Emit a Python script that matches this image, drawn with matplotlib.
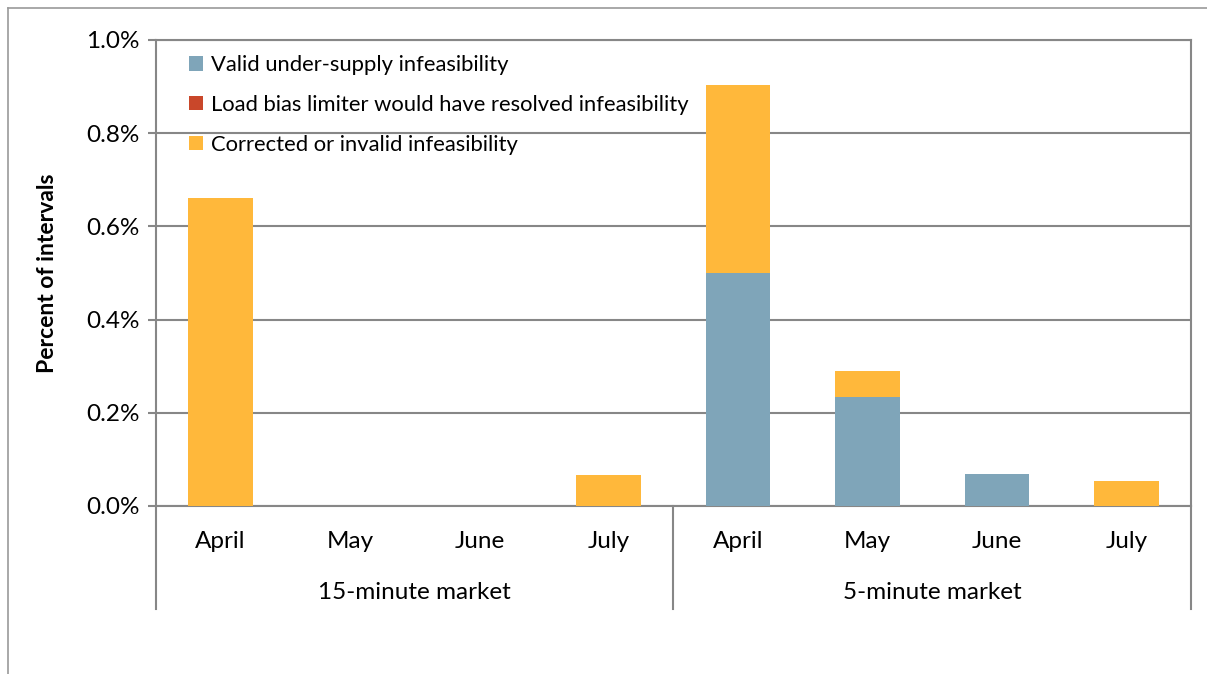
import matplotlib.pyplot as plt
import numpy as np
from matplotlib.lines import Line2D
from matplotlib.ticker import FuncFormatter

plt.rcParams["font.family"] = ["Lato", "DejaVu Sans"]

months = ["April", "May", "June", "July", "April", "May", "June", "July"]
groups = ["15-minute market", "5-minute market"]

# percent of intervals
valid_under_supply = [0.0, 0.0, 0.0, 0.0, 0.50, 0.234, 0.069, 0.0]
load_bias_resolved = [0.0, 0.0, 0.0, 0.0, 0.0, 0.0, 0.0, 0.0]
corrected_invalid = [0.661, 0.0, 0.0, 0.067, 0.403, 0.056, 0.0, 0.054]

c_blue = "#7FA5B9"
c_red = "#C9472A"
c_orange = "#FFB83B"
c_grid = "#878787"

fig = plt.figure(figsize=(12.07, 6.74), dpi=100)
ax = fig.add_axes([0.1292, 0.2493, 0.8575, 0.6914])

x = np.arange(len(months))
w = 0.5
blue = np.array(valid_under_supply)
red = np.array(load_bias_resolved)
orange = np.array(corrected_invalid)
ax.bar(x, blue, w, color=c_blue, label="Valid under-supply infeasibility", zorder=3)
ax.bar(x, red, w, bottom=blue, color=c_red,
       label="Load bias limiter would have resolved infeasibility", zorder=3)
ax.bar(x, orange, w, bottom=blue + red, color=c_orange,
       label="Corrected or invalid infeasibility", zorder=3)

ax.set_xlim(-0.5, len(months) - 0.5)
ax.set_ylim(0, 1.0)
ax.set_yticks(np.arange(0, 1.01, 0.2))
ax.yaxis.set_major_formatter(FuncFormatter(lambda v, p: f"{v:.1f}%"))
ax.yaxis.grid(True, color=c_grid, linewidth=1.5, zorder=0)
ax.tick_params(axis="y", labelsize=17.5, length=6, width=1.5, color=c_grid, pad=6)
ax.set_xticks([])
for s in ax.spines.values():
    s.set_color(c_grid)
    s.set_linewidth(1.5)

ax.set_ylabel("Percent of intervals", fontsize=16.5, fontweight="bold", labelpad=20)

# category labels and group separators
tr = ax.get_xaxis_transform()
for i, m in enumerate(months):
    ax.text(i, -0.077, m, transform=tr, ha="center", va="center", fontsize=17.5)
for gi, g in enumerate(groups):
    ax.text(gi * 4 + 1.5, -0.185, g, transform=tr, ha="center", va="center", fontsize=17.5)
for xs in [-0.5, 3.5, 7.5]:
    ax.plot([xs, xs], [0, -0.222], transform=tr, color=c_grid, linewidth=1.5, clip_on=False)

ax.legend(loc="upper left", bbox_to_anchor=(0.013, 1.01), frameon=False, fontsize=15.8,
          handlelength=0.65, handleheight=0.65, handletextpad=0.35, labelspacing=0.9)

# outer chart border (left and top)
fig.add_artist(Line2D([8 / 1207, 8 / 1207], [0, 1 - 8 / 674], transform=fig.transFigure,
                      color="#9A9A9A", linewidth=1.2))
fig.add_artist(Line2D([8 / 1207, 1], [1 - 8 / 674, 1 - 8 / 674], transform=fig.transFigure,
                      color="#9A9A9A", linewidth=1.2))

fig.savefig("out.png", dpi=100)
